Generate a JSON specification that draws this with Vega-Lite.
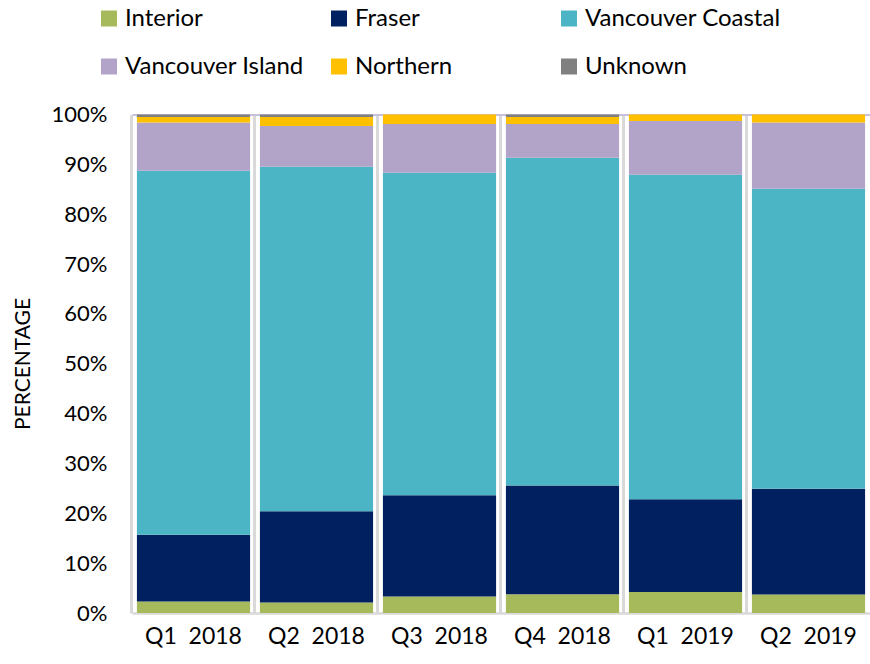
{
  "$schema": "https://vega.github.io/schema/vega-lite/v6.json",
  "width": 738,
  "height": 498.5,
  "autosize": {"type": "none"},
  "padding": {"left": 132, "top": 114.5, "right": 0, "bottom": 51},
  "background": "white",
  "config": {
    "font": "Lato",
    "view": {"stroke": null}
  },
  "data": {
    "values": [
      {"quarter": "Q1 2018", "region": "Interior", "pct": 2.3},
      {"quarter": "Q1 2018", "region": "Fraser", "pct": 13.4},
      {"quarter": "Q1 2018", "region": "Vancouver Coastal", "pct": 73.0},
      {"quarter": "Q1 2018", "region": "Vancouver Island", "pct": 9.7},
      {"quarter": "Q1 2018", "region": "Northern", "pct": 1.1},
      {"quarter": "Q1 2018", "region": "Unknown", "pct": 0.5},
      {"quarter": "Q2 2018", "region": "Interior", "pct": 2.1},
      {"quarter": "Q2 2018", "region": "Fraser", "pct": 18.3},
      {"quarter": "Q2 2018", "region": "Vancouver Coastal", "pct": 69.1},
      {"quarter": "Q2 2018", "region": "Vancouver Island", "pct": 8.2},
      {"quarter": "Q2 2018", "region": "Northern", "pct": 1.8},
      {"quarter": "Q2 2018", "region": "Unknown", "pct": 0.5},
      {"quarter": "Q3 2018", "region": "Interior", "pct": 3.3},
      {"quarter": "Q3 2018", "region": "Fraser", "pct": 20.3},
      {"quarter": "Q3 2018", "region": "Vancouver Coastal", "pct": 64.7},
      {"quarter": "Q3 2018", "region": "Vancouver Island", "pct": 9.8},
      {"quarter": "Q3 2018", "region": "Northern", "pct": 1.9},
      {"quarter": "Q3 2018", "region": "Unknown", "pct": 0.0},
      {"quarter": "Q4 2018", "region": "Interior", "pct": 3.75},
      {"quarter": "Q4 2018", "region": "Fraser", "pct": 21.85},
      {"quarter": "Q4 2018", "region": "Vancouver Coastal", "pct": 65.7},
      {"quarter": "Q4 2018", "region": "Vancouver Island", "pct": 6.8},
      {"quarter": "Q4 2018", "region": "Northern", "pct": 1.4},
      {"quarter": "Q4 2018", "region": "Unknown", "pct": 0.5},
      {"quarter": "Q1 2019", "region": "Interior", "pct": 4.2},
      {"quarter": "Q1 2019", "region": "Fraser", "pct": 18.6},
      {"quarter": "Q1 2019", "region": "Vancouver Coastal", "pct": 65.1},
      {"quarter": "Q1 2019", "region": "Vancouver Island", "pct": 10.8},
      {"quarter": "Q1 2019", "region": "Northern", "pct": 1.3},
      {"quarter": "Q1 2019", "region": "Unknown", "pct": 0.0},
      {"quarter": "Q2 2019", "region": "Interior", "pct": 3.7},
      {"quarter": "Q2 2019", "region": "Fraser", "pct": 21.2},
      {"quarter": "Q2 2019", "region": "Vancouver Coastal", "pct": 60.2},
      {"quarter": "Q2 2019", "region": "Vancouver Island", "pct": 13.3},
      {"quarter": "Q2 2019", "region": "Northern", "pct": 1.6},
      {"quarter": "Q2 2019", "region": "Unknown", "pct": 0.0}
    ]
  },
  "transform": [
    {"calculate": "indexof(['Interior', 'Fraser', 'Vancouver Coastal', 'Vancouver Island', 'Northern', 'Unknown'], datum.region)", "as": "stackOrder"}
  ],
  "mark": {"type": "bar"},
  "encoding": {
    "x": {
      "field": "quarter",
      "type": "nominal",
      "sort": null,
      "scale": {"paddingInner": 0.08, "paddingOuter": 0.04},
      "axis": {
        "title": null,
        "labelAngle": 0,
        "labelFontSize": 23,
        "labelColor": "#000000",
        "labelPadding": 12,
        "labelExpr": "replace(datum.label, ' ', '\u00a0\u00a0')",
        "ticks": false,
        "domainColor": "#d9d9d9",
        "domainWidth": 2.5,
        "grid": true,
        "gridColor": "#d9d9d9",
        "gridWidth": 3,
        "bandPosition": -0.044
      }
    },
    "y": {
      "field": "pct",
      "type": "quantitative",
      "stack": "normalize",
      "scale": {"domain": [0, 1]},
      "axis": {
        "title": "PERCENTAGE",
        "titleFontSize": 21,
        "titleFontWeight": "normal",
        "titleColor": "#000000",
        "titleAngle": -90,
        "titleX": -109,
        "titleY": 249,
        "titleAlign": "center",
        "titleBaseline": "middle",
        "format": ".0%",
        "values": [0, 0.1, 0.2, 0.3, 0.4, 0.5, 0.6, 0.7, 0.8, 0.9, 1],
        "labelOverlap": false,
        "labelFontSize": 22,
        "labelColor": "#000000",
        "labelPadding": 25,
        "ticks": false,
        "domain": false,
        "grid": true,
        "gridWidth": 2,
        "gridColor": {"condition": {"test": "datum.value == 1", "value": "#c9c0dc"}, "value": "transparent"}
      }
    },
    "color": {
      "field": "region",
      "type": "nominal",
      "sort": ["Interior", "Vancouver Island", "Fraser", "Northern", "Vancouver Coastal", "Unknown"],
      "scale": {
        "domain": ["Interior", "Vancouver Island", "Fraser", "Northern", "Vancouver Coastal", "Unknown"],
        "range": ["#a6ba5c", "#b2a3c8", "#002060", "#ffc000", "#4bb5c6", "#808080"]
      },
      "legend": {
        "title": null,
        "orient": "none",
        "legendX": -35,
        "legendY": -108,
        "columns": 3,
        "gridAlign": "all",
        "columnPadding": 6,
        "rowPadding": 24,
        "symbolType": "square",
        "symbolSize": 256,
        "symbolStrokeWidth": 0,
        "labelFontSize": 24,
        "labelColor": "#000000",
        "labelOffset": 4,
        "labelLimit": 300
      }
    },
    "order": {"field": "stackOrder", "type": "quantitative", "sort": "ascending"}
  }
}
